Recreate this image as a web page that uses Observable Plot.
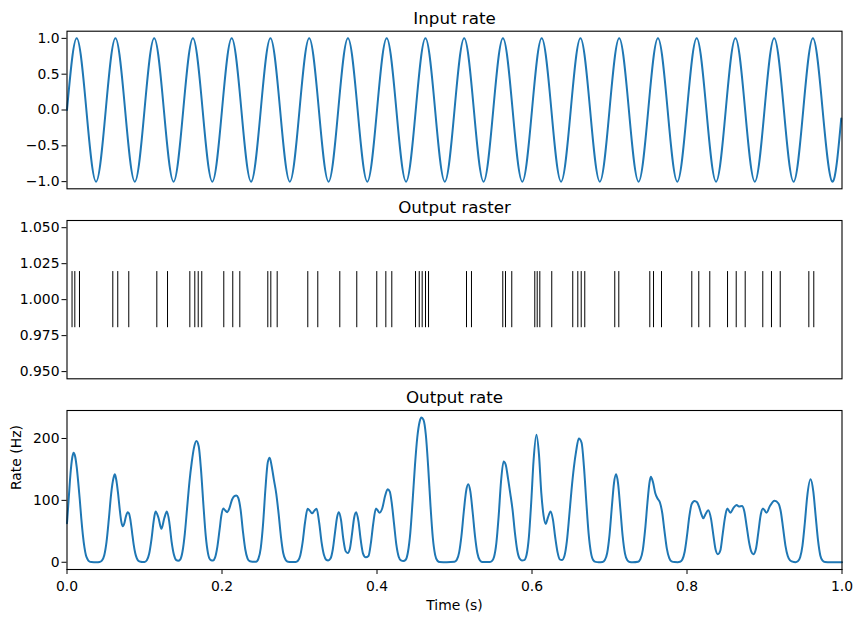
<!DOCTYPE html>
<html><head><meta charset="utf-8">
<script src="https://cdn.jsdelivr.net/npm/d3@7"></script>
<script src="https://cdn.jsdelivr.net/npm/@observablehq/plot@0.6"></script>
<style>
body{margin:0;background:#fff;}
#fig{position:relative;width:861px;height:622px;background:#fff;}
</style></head><body><div id="fig"></div>
<script>
// ---------- data ----------
const panelTitles = ["Input rate", "Output raster", "Output rate"];
const xLabel = "Time (s)";
const yLabelRate = "Rate (Hz)";

const inputTimes = [0, 0.0125, 0.025, 0.0375, 0.05, 0.0625, 0.075, 0.0875, 0.1, 0.1125, 0.125, 0.1375, 0.15, 0.1625, 0.175, 0.1875, 0.2, 0.2125, 0.225, 0.2375, 0.25, 0.2625, 0.275, 0.2875, 0.3, 0.3125, 0.325, 0.3375, 0.35, 0.3625, 0.375, 0.3875, 0.4, 0.4125, 0.425, 0.4375, 0.45, 0.4625, 0.475, 0.4875, 0.5, 0.5125, 0.525, 0.5375, 0.55, 0.5625, 0.575, 0.5875, 0.6, 0.6125, 0.625, 0.6375, 0.65, 0.6625, 0.675, 0.6875, 0.7, 0.7125, 0.725, 0.7375, 0.75, 0.7625, 0.775, 0.7875, 0.8, 0.8125, 0.825, 0.8375, 0.85, 0.8625, 0.875, 0.8875, 0.9, 0.9125, 0.925, 0.9375, 0.95, 0.9625, 0.975, 0.9875, 0.999];
const inputValues = [0, 1, 0, -1, 0, 1, 0, -1, 0, 1, 0, -1, 0, 1, 0, -1, 0, 1, 0, -1, 0, 1, 0, -1, 0, 1, 0, -1, 0, 1, 0, -1, 0, 1, 0, -1, 0, 1, 0, -1, 0, 1, 0, -1, 0, 1, 0, -1, 0, 1, 0, -1, 0, 1, 0, -1, 0, 1, 0, -1, 0, 1, 0, -1, 0, 1, 0, -1, 0, 1, 0, -1, 0, 1, 0, -1, 0, 1, 0, -1, -0.12];

const spikeTimes = [0.0065, 0.0101, 0.0161, 0.0591, 0.0655, 0.0797, 0.1159, 0.1297, 0.1585, 0.1649, 0.1693, 0.1739, 0.2023, 0.2139, 0.2230, 0.2591, 0.2630, 0.2712, 0.3107, 0.3236, 0.3520, 0.3739, 0.3997, 0.4114, 0.4191, 0.4497, 0.4545, 0.4583, 0.4626, 0.4665, 0.5155, 0.5219, 0.5623, 0.5658, 0.5739, 0.6036, 0.6067, 0.6101, 0.6255, 0.6526, 0.6591, 0.6635, 0.6681, 0.7068, 0.7120, 0.7520, 0.7568, 0.7671, 0.8062, 0.8152, 0.8294, 0.8523, 0.8635, 0.8751, 0.8978, 0.9090, 0.9203, 0.9572, 0.9636];
const spikeRow = 1.0;
const spikeHalfLength = 0.0195;

const rateTimesMs = [0, 2.5, 4.5, 6.9, 8.5, 10.5, 12.5, 14.5, 16.5, 18.5, 20.5, 22.5, 24.5, 26.5, 28.5, 31.5, 38,
  42, 45, 48, 51, 54, 57, 60, 61.8, 64, 66, 68, 70, 72, 74, 76, 78.3, 80, 82, 84, 86, 88, 90, 92, 95,
  97.5, 100, 103, 106, 109, 112, 114.3, 118, 121.8, 125.5, 128.9, 132, 135, 138, 141, 143.5,
  146, 149, 152, 155, 158, 161, 164, 167, 170, 173, 176, 179, 182, 185,
  187, 188.5, 191, 194, 197, 199, 201.5, 204, 206.7, 209.5, 212.9, 216, 218.5, 221, 224, 227, 230, 233, 236, 239,
  244, 247, 250, 253, 256, 259, 261.5, 264, 267, 270, 273, 276, 279, 282, 285, 290, 295,
  298, 301, 304, 307, 310.5, 313.5, 316.3, 319, 322, 325.5, 328.5, 331.5, 334.5, 337,
  340, 343, 346, 348.5, 350.7, 353.5, 356.5, 359.5, 362.2, 365, 368, 370.5, 373.1, 376, 379, 382, 385.5,
  389, 392, 395, 398.7, 403.2, 407, 410.4, 413.8, 416.5, 419, 422, 425, 428, 431, 434,
  437, 440, 443, 446, 449, 452, 455, 457.3, 460, 463, 466, 469, 472, 475, 478, 481, 490,
  500, 503, 506, 509, 512, 515, 517.7, 520.5, 523.5, 526.5, 529.5, 532.5, 535.5, 540,
  545, 548, 551, 554, 557, 560, 563.3, 566, 569, 572, 575, 578, 581, 584, 587,
  590, 593, 596, 599, 602, 605.7, 609, 612, 615, 617.8, 620.5, 623.9, 627, 630, 633, 636, 638.5,
  642, 645, 648, 651, 654, 657, 660.4, 664, 667, 670, 673, 676, 679, 682, 686,
  691, 694, 697, 700, 703, 705.8, 708.5, 711, 714, 717, 720, 723, 726, 730,
  737, 740, 743, 746, 749, 751.5, 753.3, 756, 759, 762, 765, 768, 771, 774, 777, 780, 784,
  788, 791, 794, 797, 800, 803, 806, 809.7, 813, 816, 819, 821, 824, 827.4, 831, 834, 837, 839.8,
  843, 846, 849, 852, 856, 860, 864, 867, 871, 874, 877, 880, 883, 885.5,
  889, 892, 895, 898, 902.6, 907, 913, 918, 921, 924, 927, 930, 933, 936, 940,
  943, 946, 949, 952, 955, 959.4, 963, 966, 969, 972, 975, 978, 985, 1000];
const rateValues = [63, 108, 143, 170, 177, 171, 154, 129, 101, 70, 44, 24, 11, 5, 1.6, 0.3, 0,
  0.5, 2.7, 11, 33, 70, 111, 136, 142, 130, 110, 86, 66, 58, 63, 74, 81, 79, 67, 48, 29, 15, 6.6, 2.5, 0.8,
  0.5, 0.6, 3.3, 13.6, 37, 68, 82, 72, 54, 71, 82, 65, 33, 12, 3.5, 2.5,
  4.4, 17, 46, 88, 130, 162, 186, 196, 187, 148, 93, 43, 14, 4,
  3, 3, 7.5, 25, 54, 74, 87, 84, 81, 87, 101, 107, 108, 104, 85, 50, 21, 6, 1.5, 1,
  1, 6, 23, 62, 118, 161, 169, 156, 133, 111, 79, 42, 15, 4, 0.8, 0.3, 0.5,
  2.4, 11, 32, 63, 86.6, 83, 79, 83, 86.6, 63, 32, 12, 4, 3,
  6, 21, 50, 73, 81, 69, 38, 18, 15, 22, 48, 72, 81, 67, 36, 14, 8,
  10, 30, 61, 87, 80, 88, 107, 118, 114, 96, 62, 28, 9, 3, 2,
  4, 17, 48, 100, 157, 202, 227, 234, 230, 206, 155, 92, 40, 12, 2.4, 0.3, 0,
  0.7, 4, 16, 43, 82, 115, 126, 114, 80, 42, 15, 3.7, 0.6, 0.3,
  0.3, 1.6, 8.6, 31, 75, 130, 163, 158, 136, 111, 84, 47, 19, 6, 3,
  3.5, 12, 41, 97, 164, 206, 174, 112, 75, 62, 72, 82, 69, 40, 16, 4.5, 3.5,
  11, 34, 74, 117, 153, 180, 200, 193, 155, 99, 47, 16, 3.4, 0.6, 0.2,
  0.6, 3.7, 15, 44, 89, 128, 142, 128, 86, 42, 14, 3.2, 0.5, 0.1,
  0.9, 5.3, 20, 53, 97, 128, 138, 130, 112, 103, 97, 80, 50, 22, 7, 1.5, 0.3,
  0.2, 0.8, 4.5, 17, 43, 74, 94, 99, 97, 88, 76, 71, 78, 84, 70, 44, 20, 13,
  19, 45, 72, 87, 80, 88, 92.5, 90, 91, 82, 58, 33, 17, 13,
  22, 48, 76, 87, 80, 91, 99.5, 95, 82, 55, 27, 10, 3, 1, 0.2,
  1.6, 8, 27, 63, 105, 134, 114, 75, 36, 11, 2.6, 0.4, 0, 0];

const inputTicks = [-1, -0.5, 0, 0.5, 1];
const rasterTicks = [0.95, 0.975, 1.0, 1.025, 1.05];
const rateTicks = [0, 100, 200];
const timeTicks = [0, 0.2, 0.4, 0.6, 0.8, 1.0];

// ---------- layout / style ----------
const blue = "#1f77b4";
const W = 861, ML = 66.5, MR = 19.5;
const baseStyle = {fontFamily: "DejaVu Sans, sans-serif", fontSize: "13.9px", color: "black", background: "transparent", overflow: "visible"};
const fig = document.getElementById("fig");
function place(svg, top) {
  svg.style.position = "absolute";
  svg.style.left = "0px";
  svg.style.top = top + "px";
  fig.appendChild(svg);
}
const titleMark = (s) => Plot.text([s], {text: d => d, frameAnchor: "top", dy: -19, fontSize: 16.7, fill: "black"});

const inputData = inputTimes.map((t, i) => ({t, v: inputValues[i]}));
const rateData = rateTimesMs.map((t, i) => ({t: t / 1000, v: rateValues[i]}));

const p1 = Plot.plot({
  width: W, height: 195, marginLeft: ML, marginRight: MR, marginTop: 30.7, marginBottom: 6.7,
  style: baseStyle,
  x: {domain: [0, 1], axis: null},
  y: {domain: [-1.1, 1.1], ticks: inputTicks, tickFormat: d3.format(".1f"), tickSize: 5, tickPadding: 2.5, label: null},
  marks: [
    Plot.line(inputData, {x: "t", y: "v", stroke: blue, strokeWidth: 2, curve: "natural"}),
    Plot.frame({stroke: "black", strokeWidth: 1.1}),
    titleMark(panelTitles[0])
  ]
});
place(p1, 0);

const p2 = Plot.plot({
  width: W, height: 190, marginLeft: ML, marginRight: MR, marginTop: 25, marginBottom: 6.7,
  style: baseStyle,
  x: {domain: [0, 1], axis: null},
  y: {domain: [0.945, 1.055], ticks: rasterTicks, tickFormat: d3.format(".3f"), tickSize: 5, tickPadding: 2.5, label: null},
  marks: [
    Plot.ruleX(spikeTimes, {x: d => d, y1: spikeRow - spikeHalfLength, y2: spikeRow + spikeHalfLength, stroke: "black", strokeWidth: 1}),
    Plot.frame({stroke: "black", strokeWidth: 1.1}),
    titleMark(panelTitles[1])
  ]
});
place(p2, 195);

const p3 = Plot.plot({
  width: W, height: 237, marginLeft: ML, marginRight: MR, marginTop: 25, marginBottom: 53,
  style: baseStyle,
  x: {domain: [0, 1], ticks: timeTicks, tickFormat: d3.format(".1f"), tickSize: 5, tickPadding: 6.8, label: null},
  y: {domain: [-11.7, 245.2], ticks: rateTicks, tickFormat: d3.format("d"), tickSize: 5, tickPadding: 2.5, label: null},
  marks: [
    Plot.line(rateData, {x: "t", y: "v", stroke: blue, strokeWidth: 2, curve: "monotone-x"}),
    Plot.frame({stroke: "black", strokeWidth: 1.1}),
    titleMark(panelTitles[2]),
    Plot.text([xLabel], {text: d => d, frameAnchor: "bottom", dy: 40, fontSize: 13.9, fill: "black"}),
    Plot.text([yLabelRate], {text: d => d, frameAnchor: "left", dx: -50.5, rotate: -90, fontSize: 13.9, fill: "black"})
  ]
});
place(p3, 385);
</script></body></html>
